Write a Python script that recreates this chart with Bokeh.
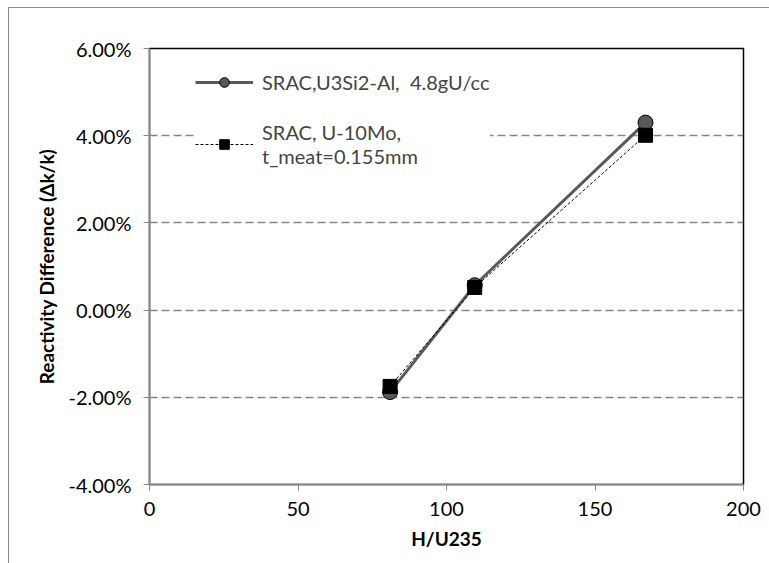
from bokeh.plotting import figure
from bokeh.models import (ColumnDataSource, Range1d, FixedTicker, NumeralTickFormatter,
                          Legend, LegendItem)
from bokeh.embed import file_html
from bokeh.resources import INLINE

# Data
h_u235 = [81, 109.5, 167]
u3si2_react = [-0.0188, 0.0057, 0.0430]
u10mo_react = [-0.0175, 0.0052, 0.0401]
label_u3si2 = "SRAC,U3Si2-Al,  4.8gU/cc"
label_u10mo = "SRAC, U-10Mo,\nt_meat=0.155mm"
x_ticks = [0, 50, 100, 150, 200]
y_ticks = [-0.04, -0.02, 0.0, 0.02, 0.04, 0.06]

FONT = "Lato"
FS = "20px"
AXIS_GRAY = "#868686"

p = figure(width=761, height=556, output_backend="svg", toolbar_location=None,
           x_range=Range1d(0, 200), y_range=Range1d(-0.04, 0.06),
           min_border_left=140, min_border_right=27, min_border_top=40, min_border_bottom=80)
p.styles = {"margin-left": "8px", "margin-top": "7px",
            "border-left": "1px solid #8c8c8c", "border-top": "1px solid #8c8c8c"}
p.outline_line_color = "black"
p.outline_line_width = 1.5
p.background_fill_color = "white"
p.border_fill_color = "white"

# axes
p.xaxis.ticker = FixedTicker(ticks=x_ticks)
p.yaxis.ticker = FixedTicker(ticks=y_ticks)
p.yaxis.formatter = NumeralTickFormatter(format="0.00%")
for ax in (p.xaxis[0], p.yaxis[0]):
    ax.axis_line_color = AXIS_GRAY
    ax.axis_line_width = 1.5
    ax.major_tick_line_color = AXIS_GRAY
    ax.minor_tick_line_color = None
    ax.major_tick_in = 0
    ax.major_tick_out = 6
    ax.major_label_text_font = FONT
    ax.major_label_text_font_size = FS
    ax.major_label_text_color = "black"
    ax.axis_label_text_font = FONT
    ax.axis_label_text_font_size = "19px"
    ax.axis_label_text_font_style = "bold"
    ax.axis_label_text_color = "black"
p.xaxis.axis_label = "H/U235"
p.yaxis.axis_label = "Reactivity Difference (\u0394k/k)"
p.xaxis.major_label_standoff = 11
p.xaxis.axis_label_standoff = 8
p.yaxis.major_label_standoff = 12
p.yaxis.axis_label_standoff = 8

# grid
p.xgrid.grid_line_color = None
p.ygrid.grid_line_color = AXIS_GRAY
p.ygrid.grid_line_dash = "8 4"
p.ygrid.grid_line_width = 1.5

src = ColumnDataSource(dict(x=h_u235, a=u3si2_react, b=u10mo_react))

l1 = p.line("x", "a", source=src, line_color="#595959", line_width=3)
m1 = p.scatter("x", "a", source=src, marker="circle", size=15,
               fill_color="#595959", line_color="black", line_width=1)
l2 = p.line("x", "b", source=src, line_color="black", line_width=1, line_dash="3 2")
m2 = p.scatter("x", "b", source=src, marker="square", size=14,
               fill_color="black", line_color="black")

legend = Legend(items=[LegendItem(label=label_u3si2, renderers=[l1, m1]),
                       LegendItem(label=label_u10mo, renderers=[l2, m2])],
                location=(46, 316), orientation="vertical",
                background_fill_color="white", background_fill_alpha=1,
                border_line_color=None,
                label_text_font=FONT, label_text_font_size=FS,
                glyph_width=58, glyph_height=24, label_standoff=9,
                spacing=26, padding=6, margin=0)
p.add_layout(legend)

open("out.html", "w").write(file_html(p, INLINE))
